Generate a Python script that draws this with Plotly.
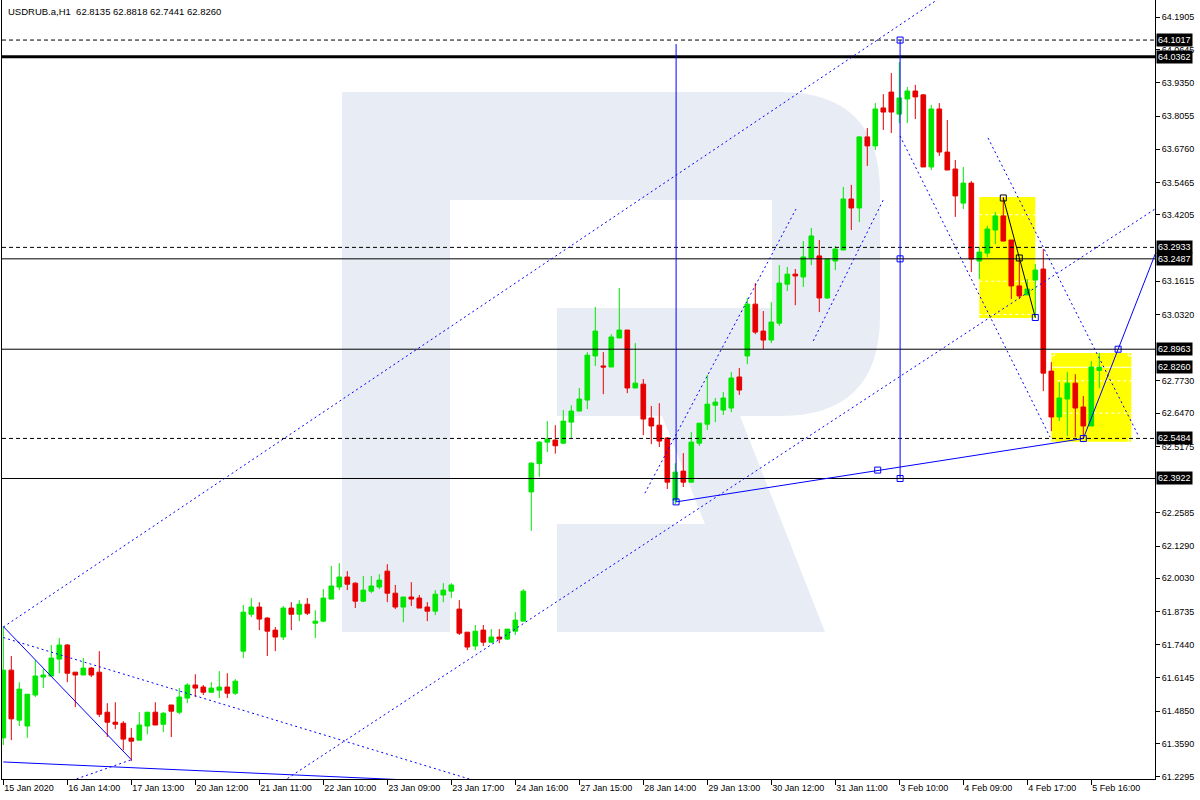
import plotly.graph_objects as go

# ---------------- data ----------------
bars = list(range(138))
opens = [61.381, 61.645, 61.450, 61.427, 61.548, 61.618, 61.622, 61.688, 61.743, 61.637,
         61.626, 61.653, 61.637, 61.481, 61.442, 61.438, 61.380, 61.372, 61.427, 61.481,
         61.434, 61.509, 61.481, 61.536, 61.587, 61.579, 61.559, 61.567, 61.579, 61.555,
         61.719, 61.863, 61.891, 61.848, 61.801, 61.774, 61.887, 61.863, 61.902, 61.828,
         61.836, 61.922, 61.969, 62.008, 61.984, 61.914, 61.953, 61.969, 62.031, 61.945,
         61.891, 61.930, 61.926, 61.891, 61.875, 61.938, 61.953, 61.883, 61.793, 61.739,
         61.801, 61.754, 61.774, 61.766, 61.797, 61.836, 62.340, 62.450, 62.534, 62.542,
         62.530, 62.612, 62.655, 62.698, 62.870, 62.831, 62.827, 62.940, 62.971, 62.745,
         62.760, 62.628, 62.600, 62.550, 62.308, 62.421, 62.378, 62.530, 62.604, 62.678,
         62.659, 62.667, 62.788, 62.870, 63.072, 62.967, 62.932, 62.998, 63.150, 63.189,
         63.178, 63.252, 63.260, 63.096, 63.240, 63.283, 63.482, 63.447, 63.724, 63.689,
         63.837, 63.899, 63.813, 63.872, 63.903, 63.888, 63.607, 63.833, 63.665, 63.599,
         63.466, 63.544, 63.240, 63.271, 63.361, 63.416, 63.322, 63.143, 63.108, 63.166,
         63.209, 62.811, 62.632, 62.702, 62.764, 62.671, 62.597, 62.8135]
highs = [61.813, 61.700, 61.598, 61.551, 61.684, 61.649, 61.743, 61.770, 61.746, 61.637,
         61.692, 61.657, 61.719, 61.516, 61.520, 61.446, 61.419, 61.481, 61.481, 61.520,
         61.481, 61.509, 61.575, 61.594, 61.629, 61.587, 61.598, 61.641, 61.633, 61.610,
         61.899, 61.926, 61.910, 61.852, 61.813, 61.895, 61.910, 61.918, 61.926, 61.879,
         61.961, 62.051, 62.062, 62.031, 61.988, 62.012, 62.012, 62.019, 62.058, 61.977,
         61.930, 61.988, 61.938, 61.910, 61.957, 61.984, 61.984, 61.918, 61.793, 61.821,
         61.821, 61.805, 61.805, 61.805, 61.871, 61.961, 62.456, 62.538, 62.616, 62.600,
         62.659, 62.678, 62.745, 62.885, 63.061, 62.885, 62.955, 63.135, 62.971, 62.920,
         62.780, 62.675, 62.686, 62.554, 62.452, 62.491, 62.573, 62.608, 62.796, 62.706,
         62.729, 62.807, 62.823, 63.096, 63.154, 63.045, 63.080, 63.224, 63.217, 63.209,
         63.318, 63.369, 63.322, 63.248, 63.299, 63.529, 63.537, 63.728, 63.759, 63.856,
         63.891, 63.973, 64.016, 63.919, 63.927, 63.891, 63.849, 63.856, 63.790, 63.634,
         63.607, 63.552, 63.295, 63.377, 63.431, 63.490, 63.322, 63.252, 63.170, 63.228,
         63.287, 62.846, 62.768, 62.807, 62.799, 62.714, 62.850, 62.8818]
lows = [61.353, 61.372, 61.427, 61.381, 61.540, 61.575, 61.622, 61.633, 61.598, 61.501,
        61.626, 61.618, 61.462, 61.384, 61.415, 61.333, 61.290, 61.372, 61.395, 61.431,
        61.403, 61.384, 61.473, 61.516, 61.540, 61.548, 61.559, 61.536, 61.536, 61.548,
        61.692, 61.852, 61.801, 61.700, 61.719, 61.762, 61.801, 61.836, 61.860, 61.770,
        61.832, 61.922, 61.957, 61.957, 61.887, 61.910, 61.945, 61.961, 61.910, 61.883,
        61.832, 61.895, 61.887, 61.836, 61.860, 61.910, 61.926, 61.782, 61.723, 61.723,
        61.739, 61.750, 61.750, 61.762, 61.782, 61.836, 62.188, 62.399, 62.495, 62.489,
        62.526, 62.550, 62.655, 62.663, 62.831, 62.721, 62.827, 62.940, 62.725, 62.745,
        62.561, 62.526, 62.515, 62.351, 62.292, 62.359, 62.378, 62.519, 62.581, 62.612,
        62.640, 62.651, 62.718, 62.838, 62.955, 62.897, 62.920, 62.987, 63.123, 63.068,
        63.139, 63.224, 63.041, 63.092, 63.205, 63.283, 63.361, 63.392, 63.611, 63.673,
        63.751, 63.739, 63.778, 63.778, 63.794, 63.607, 63.595, 63.650, 63.595, 63.412,
        63.443, 63.197, 63.170, 63.256, 63.306, 63.318, 63.092, 63.092, 63.108, 63.018,
        62.733, 62.577, 62.616, 62.558, 62.554, 62.550, 62.597, 62.7441]
closes = [61.645, 61.455, 61.571, 61.551, 61.622, 61.626, 61.692, 61.743, 61.633, 61.626,
          61.653, 61.626, 61.473, 61.442, 61.434, 61.376, 61.368, 61.431, 61.481, 61.431,
          61.477, 61.485, 61.540, 61.587, 61.575, 61.559, 61.575, 61.579, 61.555, 61.602,
          61.871, 61.891, 61.844, 61.797, 61.774, 61.887, 61.863, 61.902, 61.867, 61.836,
          61.926, 61.973, 62.008, 61.980, 61.914, 61.957, 61.973, 61.996, 61.945, 61.891,
          61.930, 61.922, 61.887, 61.875, 61.941, 61.957, 61.977, 61.789, 61.735, 61.797,
          61.754, 61.774, 61.766, 61.805, 61.840, 61.953, 62.452, 62.534, 62.546, 62.520,
          62.616, 62.655, 62.702, 62.873, 62.967, 62.827, 62.944, 62.971, 62.745, 62.764,
          62.624, 62.597, 62.538, 62.378, 62.417, 62.378, 62.534, 62.608, 62.682, 62.690,
          62.706, 62.784, 62.737, 63.072, 62.963, 62.932, 63.002, 63.154, 63.189, 63.182,
          63.256, 63.338, 63.096, 63.248, 63.287, 63.482, 63.447, 63.724, 63.689, 63.833,
          63.821, 63.821, 63.876, 63.903, 63.880, 63.607, 63.833, 63.665, 63.595, 63.494,
          63.544, 63.248, 63.275, 63.365, 63.416, 63.318, 63.143, 63.104, 63.131, 63.205,
          62.803, 62.632, 62.706, 62.764, 62.667, 62.597, 62.827, 62.8260]

time_tick_bars = [0, 8, 16, 24, 32, 40, 48, 56, 64, 72, 80, 88, 96, 104, 112, 120, 128, 136]
time_tick_labels = ["15 Jan 2020", "16 Jan 14:00", "17 Jan 13:00", "20 Jan 12:00", "21 Jan 11:00",
                    "22 Jan 10:00", "23 Jan 09:00", "23 Jan 17:00", "24 Jan 16:00", "27 Jan 15:00",
                    "28 Jan 14:00", "29 Jan 13:00", "30 Jan 12:00", "31 Jan 11:00", "3 Feb 10:00",
                    "4 Feb 09:00", "4 Feb 17:00", "5 Feb 16:00"]
price_ticks = [64.1905, 64.0645, 63.9350, 63.8055, 63.6760, 63.5465, 63.4205, 63.1615,
               63.0320, 62.7730, 62.6470, 62.5175, 62.2585, 62.1290, 62.0030,
               61.8735, 61.7440, 61.6145, 61.4850, 61.3590, 61.2295]

symbol_title = "USDRUB.a,H1  62.8135 62.8818 62.7441 62.8260"
bid_price = 62.8260

# horizontal price levels drawn on the chart
dashed_levels = [64.1017, 63.2933, 62.5484]
solid_levels = [63.2487, 62.8963, 62.3922]
thick_levels = [64.0362]

# drawn objects: (bar, price) anchor points
blue_solid_lines = [
    [(0, 61.815), (16, 61.296)],
    [(0, 61.287), (51, 61.216)],
    [(84.1, 62.301), (135, 62.548)],
    [(135, 62.548), (145, 63.348)],
    [(84.1, 62.301), (84.1, 64.086)],
    [(112.1, 64.1017), (112.1, 62.3922)],
]
black_solid_lines = [[(125, 63.486), (129, 63.020)]]
blue_dotted_lines = [
    [(0, 61.813), (120, 64.327)],
    [(0, 61.772), (60, 61.204)],
    [(9.17, 61.221), (15.96, 61.295)],
    [(35, 61.212), (145, 63.464)],
    [(80.2, 62.335), (99.09, 63.443)],
    [(101.25, 62.929), (109.99, 63.478)],
    [(112.09, 63.728), (130.84, 62.554)],
    [(123.09, 63.720), (141.84, 62.562)],
]
blue_anchor_bars = [84.1, 109.3, 135, 139.35, 112.1, 112.1, 112.1, 129]
blue_anchor_prices = [62.301, 62.425, 62.548, 62.8963, 64.1017, 63.2487, 62.3922, 63.020]
black_anchor_bars = [125, 127]
black_anchor_prices = [63.486, 63.252]
yellow_boxes = [((122, 129), (63.490, 63.018)), ((131, 141), (62.882, 62.535))]

# ---------------- styling / geometry ----------------
W, H = 1200, 800
ML, MR, MT, MB = 2, 45, 0, 21
PLOT_W = W - ML - MR
PLOT_H = H - MT - MB
BAR_PX = 8.0
X0 = -(3.3 - ML) / BAR_PX
X1 = X0 + PLOT_W / BAR_PX
Y_TOP, Y_BOT = 64.2579, 61.2205
GREEN, RED, BLUE = "#00e600", "#e60000", "#0000ff"
FONT = "Liberation Sans"


def paper(px, py):
    return (px - ML) / PLOT_W, (H - MB - py) / PLOT_H


def path_from(cmds):
    out = []
    for c in cmds:
        if c[0] == "Z":
            out.append("Z")
        elif c[0] == "Q":
            a = paper(c[1], c[2]); b = paper(c[3], c[4])
            out.append(f"Q{a[0]:.5f},{a[1]:.5f} {b[0]:.5f},{b[1]:.5f}")
        else:
            a = paper(c[1], c[2])
            out.append(f"{c[0]}{a[0]:.5f},{a[1]:.5f}")
    return " ".join(out)


shapes = []
# watermark logo (decoration)
logo_main = [("M", 342, 92), ("L", 780, 92), ("Q", 880, 92, 880, 192), ("L", 880, 316),
             ("Q", 880, 416, 780, 416), ("L", 557, 416), ("L", 557, 308), ("L", 772, 308),
             ("L", 772, 200), ("L", 450, 200), ("L", 450, 632), ("L", 342, 632), ("Z",)]
logo_leg = [("M", 662, 416), ("L", 740, 416), ("L", 825, 632), ("L", 557, 632),
            ("L", 557, 524), ("L", 705, 524), ("Z",)]
for p in (logo_main, logo_leg):
    shapes.append(dict(type="path", xref="paper", yref="paper", path=path_from(p),
                       fillcolor="#e8ecf4", line=dict(width=0), layer="below"))

# yellow boxes + white grid inside them
for (xa, xb), (ya, yb) in yellow_boxes:
    shapes.append(dict(type="rect", xref="x", yref="y", x0=xa, x1=xb, y0=ya, y1=yb,
                       fillcolor="#ffff00", line=dict(width=0), layer="below"))
    for t in price_ticks:
        if min(ya, yb) < t < max(ya, yb):
            shapes.append(dict(type="line", xref="x", yref="y", x0=xa, x1=xb, y0=t, y1=t,
                               line=dict(color="white", width=1, dash="3px,3px"), layer="below"))
    if min(ya, yb) < bid_price < max(ya, yb):
        shapes.append(dict(type="line", xref="x", yref="y", x0=xa, x1=xb, y0=bid_price, y1=bid_price,
                           line=dict(color="white", width=1), layer="below"))

for lv in dashed_levels:
    shapes.append(dict(type="line", xref="paper", yref="y", x0=0, x1=1, y0=lv, y1=lv,
                       line=dict(color="black", width=1, dash="4px,3px")))
for lv in solid_levels:
    shapes.append(dict(type="line", xref="paper", yref="y", x0=0, x1=1, y0=lv, y1=lv,
                       line=dict(color="black", width=1)))
for lv in thick_levels:
    shapes.append(dict(type="line", xref="paper", yref="y", x0=0, x1=1, y0=lv, y1=lv,
                       line=dict(color="black", width=3)))


def seg(pts, color, dash=None):
    (xa, ya), (xb, yb) = pts
    ln = dict(color=color, width=1)
    if dash:
        ln["dash"] = dash
    return dict(type="line", xref="x", yref="y", x0=xa, y0=ya, x1=xb, y1=yb, line=ln)


for pts in blue_dotted_lines:
    shapes.append(seg(pts, BLUE, "2px,3px"))
for pts in blue_solid_lines:
    shapes.append(seg(pts, BLUE))
for pts in black_solid_lines:
    shapes.append(seg(pts, "black"))

fig = go.Figure()
fig.add_trace(go.Candlestick(
    x=bars, open=opens, high=highs, low=lows, close=closes,
    increasing=dict(line=dict(color=GREEN, width=1), fillcolor=GREEN),
    decreasing=dict(line=dict(color=RED, width=1), fillcolor=RED),
    whiskerwidth=0, showlegend=False, hoverinfo="skip"))
fig.add_trace(go.Scatter(x=blue_anchor_bars, y=blue_anchor_prices, mode="markers",
                         marker=dict(symbol="square-open", size=6, color=BLUE, line=dict(width=1)),
                         showlegend=False, hoverinfo="skip"))
fig.add_trace(go.Scatter(x=black_anchor_bars, y=black_anchor_prices, mode="markers",
                         marker=dict(symbol="square-open", size=6, color="black", line=dict(width=1)),
                         showlegend=False, hoverinfo="skip"))
corner_x = [yellow_boxes[1][0][0], yellow_boxes[1][0][1], yellow_boxes[1][0][0], yellow_boxes[1][0][1]]
corner_y = [yellow_boxes[1][1][0], yellow_boxes[1][1][0], yellow_boxes[1][1][1], yellow_boxes[1][1][1]]
fig.add_trace(go.Scatter(x=corner_x, y=corner_y, mode="markers",
                         marker=dict(symbol="square-open", size=6, color="white", line=dict(width=1)),
                         showlegend=False, hoverinfo="skip"))

annotations = [dict(xref="paper", yref="paper", x=0, y=1, xanchor="left", yanchor="top",
                    xshift=4, yshift=-4, text=symbol_title, showarrow=False,
                    font=dict(family=FONT, size=9.5, color="black"))]
for lv in dashed_levels + solid_levels + thick_levels + [bid_price]:
    annotations.append(dict(xref="paper", yref="y", x=1, y=lv, xanchor="left", yanchor="middle",
                            xshift=1, text=f"{lv:.4f}", showarrow=False, bgcolor="black",
                            borderpad=1, font=dict(family=FONT, size=9, color="white")))

fig.update_layout(
    width=W, height=H, margin=dict(l=ML, r=MR, t=MT, b=MB),
    paper_bgcolor="white", plot_bgcolor="white", showlegend=False,
    font=dict(family=FONT, size=9, color="black"),
    boxgap=0.42, boxgroupgap=0,
    shapes=shapes, annotations=annotations,
    xaxis=dict(range=[X0, X1], rangeslider=dict(visible=False), showgrid=False, zeroline=False,
               tickmode="array", tickvals=time_tick_bars, ticktext=time_tick_labels,
               ticks="outside", ticklen=5, tickcolor="black", showline=True, linecolor="black",
               linewidth=1, ticklabelposition="outside right", tickfont=dict(family=FONT, size=9)),
    yaxis=dict(side="right", range=[Y_BOT, Y_TOP], tickmode="array", tickvals=price_ticks,
               tickformat=".4f", ticks="outside", ticklen=4, tickcolor="black", showline=True,
               linecolor="black", linewidth=1, mirror=True, showgrid=False, zeroline=False,
               tickfont=dict(family=FONT, size=9)),
)

fig.write_html("out.html", config={"displayModeBar": False},
               post_script="document.body.style.margin='0';document.body.style.padding='0';")
